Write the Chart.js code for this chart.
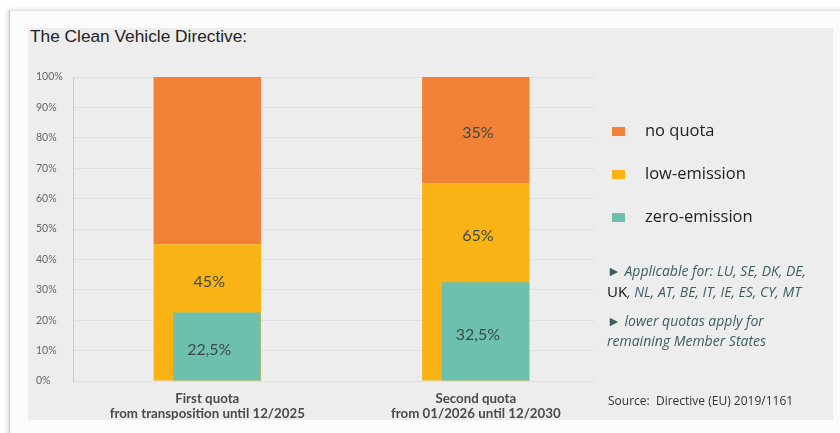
<!DOCTYPE html>
<html lang="en">
<head>
  <meta charset="UTF-8">
  <title>The Clean Vehicle Directive</title>
  <script src="https://cdn.jsdelivr.net/npm/chart.js"></script>
  <style>
    body {
      margin: 0;
      width: 840px;
      height: 433px;
      overflow: hidden;
      background: #ffffff;
      position: relative;
      font-family: 'Open Sans', sans-serif;
    }
    .card {
      position: absolute;
      left: 9px;
      top: 10px;
      width: 840px;
      height: 440px;
      background: #fbfbfb;
      border-left: 1px solid #c4c4c4;
      border-top: 1px solid #e2e2e2;
      box-shadow: -2px -1px 4px rgba(0, 0, 0, 0.12);
    }
    .panel {
      position: absolute;
      left: 28px;
      top: 28px;
      width: 805px;
      height: 392px;
      background: #ededed;
    }
    h1 {
      position: absolute;
      left: 30px;
      top: 26px;
      margin: 0;
      font: 17.3px 'Liberation Sans', Arial, sans-serif;
      color: #222;
    }
    .chart-box {
      position: absolute;
      left: 0;
      top: 0;
      width: 840px;
      height: 421px;
    }
    .legend {
      position: absolute;
      left: 612px;
      top: 118px;
    }
    .legend div {
      height: 43px;
      font-size: 16.5px;
      color: #222;
      display: flex;
      align-items: flex-start;
    }
    .legend span.sw {
      display: inline-block;
      width: 13px;
      height: 9px;
      margin: 9px 20px 0 0;
    }
    .notes {
      position: absolute;
      left: 607px;
      top: 261px;
      font-size: 14px;
      font-style: italic;
      color: #3d5f5f;
      line-height: 20px;
    }
    .notes p { margin: 0 0 9px 0; }
    .notes .uk { font-style: normal; color: #111; font-size: 15px; }
    .source {
      position: absolute;
      left: 608px;
      top: 392px;
      font-size: 12px;
      color: #333;
    }
  </style>
</head>
<body>
  <div class="card"></div>
  <div class="panel"></div>
  <h1>The Clean Vehicle Directive:</h1>
  <div class="chart-box"><canvas id="chart"></canvas></div>
  <div class="legend" id="legend"></div>
  <div class="notes">
    <p>&#9658; Applicable for: LU, SE, DK, DE,<br><span class="uk">UK</span>, NL, AT, BE, IT, IE, ES, CY, MT</p>
    <p>&#9658; lower quotas apply for<br>remaining Member States</p>
  </div>
  <div class="source">Source:&nbsp; Directive (EU) 2019/1161</div>

  <script>
    // categories (two quota periods)
    const categories = [
      ['First quota', 'from transposition until 12/2025'],
      ['Second quota', 'from 01/2026 until 12/2030']
    ];

    // shares in percent
    const zeroEmission = [22.5, 32.5];   // teal, from 0
    const lowEmission = [45, 65];        // yellow, from 0 (includes zero-emission)
    const noQuota = [55, 35];            // orange, on top of low-emission

    // texts written inside the bars
    const zeroLabels = ['22,5%', '32,5%'];
    const lowLabels = ['45%', '65%'];
    const noQuotaLabels = ['', '35%'];

    const yTicks = [0, 10, 20, 30, 40, 50, 60, 70, 80, 90, 100];

    const seriesNames = ['no quota', 'low-emission', 'zero-emission'];
    const seriesColors = ['#f08137', '#f9b314', '#6cc0ad'];

    // legend
    const legend = document.getElementById('legend');
    seriesNames.forEach((name, i) => {
      const row = document.createElement('div');
      row.innerHTML = '<span class="sw" style="background:' + seriesColors[i] + '"></span>' + name;
      legend.appendChild(row);
    });

    // x range of the category axis and the small right shift of the teal bars
    const X_MIN = -0.5, X_MAX = 1.44, TEAL_SHIFT = 0.036;
    const categoryTicks = (axis) => { axis.ticks = categories.map((c, i) => ({ value: i })); };

    const barFont = { family: 'Lato', size: 16 };

    // writes the percentages in the middle of each visible segment
    const barLabels = {
      id: 'barLabels',
      afterDatasetsDraw(chart) {
        const ctx = chart.ctx;
        const x = chart.scales.x, y = chart.scales.y;
        ctx.save();
        ctx.font = barFont.size + 'px ' + barFont.family;
        ctx.fillStyle = '#3c4a44';
        ctx.textAlign = 'center';
        ctx.textBaseline = 'middle';
        categories.forEach((c, i) => {
          const cx = x.getPixelForValue(i) + 2;
          const parts = [
            [zeroLabels[i], zeroEmission[i] / 2],
            [lowLabels[i], (zeroEmission[i] + lowEmission[i]) / 2],
            [noQuotaLabels[i], lowEmission[i] + noQuota[i] / 2]
          ];
          parts.forEach(([txt, v]) => {
            if (txt) ctx.fillText(txt, cx, y.getPixelForValue(v) + 3);
          });
        });
        ctx.restore();
      }
    };

    new Chart(document.getElementById('chart'), {
      type: 'bar',
      data: {
        datasets: [
          {
            label: seriesNames[2],
            data: zeroEmission.map((v, i) => ({ x: i, y: [0, v] })),
            backgroundColor: seriesColors[2],
            xAxisID: 'xz',
            barPercentage: 0.325,
            categoryPercentage: 1,
            order: 0
          },
          {
            label: seriesNames[1],
            data: lowEmission.map((v, i) => ({ x: i, y: [0, v] })),
            backgroundColor: seriesColors[1],
            barPercentage: 0.4,
            categoryPercentage: 1,
            order: 1
          },
          {
            label: seriesNames[0],
            data: noQuota.map((v, i) => ({ x: i, y: [lowEmission[i], lowEmission[i] + v] })),
            backgroundColor: seriesColors[0],
            barPercentage: 0.4,
            categoryPercentage: 1,
            order: 1
          }
        ]
      },
      options: {
        responsive: true,
        maintainAspectRatio: false,
        animation: false,
        grouped: false,
        layout: { padding: { top: 77, right: 246, left: 36, bottom: 0 } },
        plugins: {
          legend: { display: false },
          tooltip: { enabled: false }
        },
        scales: {
          x: {
            type: 'linear',
            offset: false,
            min: X_MIN,
            max: X_MAX,
            afterBuildTicks: categoryTicks,
            afterFit: (axis) => { axis.height = 40; },
            grid: { display: false, offset: false },
            border: { display: false },
            ticks: {
              callback: (v, i) => categories[i],
              font: { family: 'Lato', size: 13.3, weight: 'bold', lineHeight: 1.08 },
              color: '#4a4a4a',
              padding: 3,
              maxRotation: 0,
              autoSkip: false
            }
          },
          xz: {
            type: 'linear',
            display: false,
            offset: false,
            min: X_MIN - TEAL_SHIFT,
            max: X_MAX - TEAL_SHIFT,
            afterBuildTicks: categoryTicks
          },
          y: {
            min: 0,
            max: 100,
            afterBuildTicks: (axis) => { axis.ticks = yTicks.map(v => ({ value: v })); },
            afterFit: (axis) => { axis.width = 37; },
            grid: { color: 'rgba(0,0,0,0.06)', drawTicks: false },
            border: { color: '#c9c9c9' },
            ticks: {
              callback: v => v + '%',
              font: { family: 'Lato', size: 10.5 },
              color: '#666',
              padding: 7,
              crossAlign: 'far'
            }
          }
        }
      },
      plugins: [barLabels]
    });
  </script>
</body>
</html>
